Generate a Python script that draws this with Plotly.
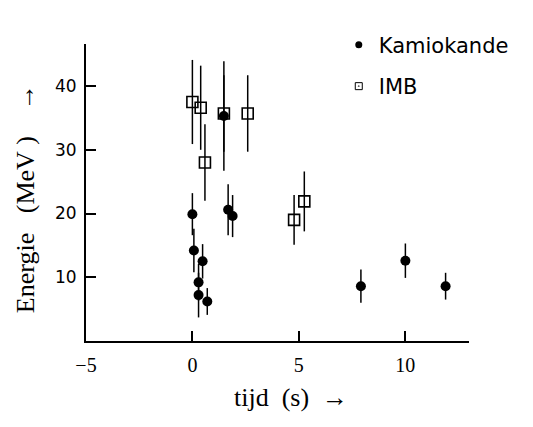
import plotly.graph_objects as go

# Kamiokande events
kam_t = [0.0, 0.07, 0.29, 0.29, 0.48, 0.70, 1.48, 1.68, 1.89, 7.92, 10.01, 11.90]
kam_e = [19.9, 14.2, 9.2, 7.2, 12.5, 6.2, 35.3, 20.6, 19.6, 8.6, 12.6, 8.6]
kam_err = [3.3, 3.4, 2.9, 3.5, 2.7, 2.1, 8.6, 4.0, 3.3, 2.6, 2.7, 2.1]

# IMB events
imb_t = [0.0, 0.39, 0.59, 1.48, 2.60, 4.78, 5.26]
imb_e = [37.5, 36.6, 28.0, 35.7, 35.7, 19.0, 21.9]
imb_err = [6.6, 6.6, 6.0, 6.0, 6.0, 3.9, 4.7]

x_ticks = [-5, 0, 5, 10]
y_ticks = [10, 20, 30, 40]

fig = go.Figure()

fig.add_trace(go.Scatter(
    x=kam_t, y=kam_e, mode="markers", showlegend=False,
    marker=dict(symbol="circle", size=10, color="black"),
    error_y=dict(type="data", array=kam_err, visible=True, width=0,
                 thickness=1.5, color="black"),
))
fig.add_trace(go.Scatter(
    x=imb_t, y=imb_e, mode="markers", showlegend=False,
    marker=dict(symbol="square-open", size=11, color="black",
                line=dict(width=1.6, color="black")),
    error_y=dict(type="data", array=imb_err, visible=True, width=0,
                 thickness=1.5, color="black"),
))

# legend entries
fig.add_trace(go.Scatter(
    x=[None], y=[None], mode="markers", name="Kamiokande", legendgroup="k",
    marker=dict(symbol="circle", size=7, color="black"),
))
fig.add_trace(go.Scatter(
    x=[None], y=[None], mode="markers", name="IMB", legendgroup="i",
    marker=dict(symbol="square-open-dot", size=7, color="black",
                line=dict(width=1, color="black")),
))

fig.update_layout(
    width=533, height=427,
    margin=dict(l=78, r=72, t=36, b=94, autoexpand=False),
    paper_bgcolor="white", plot_bgcolor="white",
    showlegend=True,
    legend=dict(x=0.66, y=1.065, xanchor="left", yanchor="top",
                font=dict(family="DejaVu Sans", size=21, color="black"),
                tracegroupgap=11, bgcolor="rgba(0,0,0,0)"),
    xaxis=dict(range=[-5, 13.0], tickvals=x_ticks, ticks="inside",
               ticklen=10, tickwidth=1.5, tickcolor="black",
               showline=True, linecolor="black", linewidth=1.8,
               showgrid=False, zeroline=False, ticklabelstandoff=5,
               tickfont=dict(family="Liberation Serif", size=20, color="black")),
    yaxis=dict(range=[0, 46.6], tickvals=y_ticks, ticks="inside",
               ticklen=10, tickwidth=1.5, tickcolor="black",
               showline=True, linecolor="black", linewidth=1.8,
               showgrid=False, zeroline=False, ticklabelstandoff=4,
               tickfont=dict(family="DejaVu Sans", size=17, color="black")),
    annotations=[
        dict(text="tijd\u00a0\u00a0(s)\u00a0\u00a0\u2192", xref="paper", yref="paper",
             x=0.535, y=-0.19, xanchor="center", yanchor="middle",
             showarrow=False,
             font=dict(family="Liberation Serif", size=26, color="black")),
        dict(text="Energie\u00a0\u00a0\u00a0(MeV\u00a0)\u00a0\u00a0\u00a0\u00a0\u2192", xref="paper", yref="paper",
             x=-0.159, y=0.478, xanchor="center", yanchor="middle",
             textangle=-90, showarrow=False,
             font=dict(family="Liberation Serif", size=26, color="black")),
    ],
)

fig.write_html("out.html")
